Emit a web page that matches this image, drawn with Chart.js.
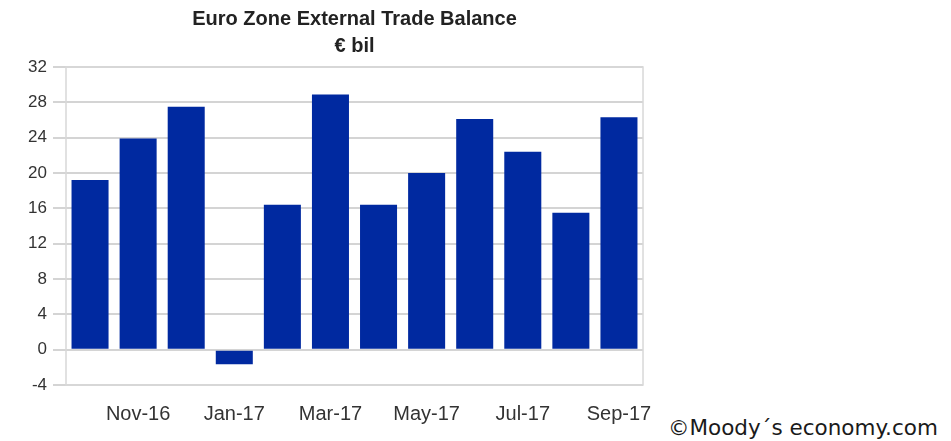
<!DOCTYPE html>
<html>
<head>
<meta charset="utf-8">
<script src="https://cdn.jsdelivr.net/npm/chart.js@4"></script>
<style>
  body { margin: 0; background: #fff; width: 951px; height: 441px; position: relative; overflow: hidden; }
  #wrap { position: absolute; left: 0; top: 0; width: 660px; height: 441px; }
  #credit { position: absolute; left: 668px; top: 415px; font-family: "DejaVu Sans", Verdana, sans-serif; font-size: 21.5px; color: #1a1a1a; white-space: nowrap; }
</style>
</head>
<body>
<div id="wrap"><canvas id="grafico"></canvas></div>
<div id="credit">©Moody´s economy.com</div>
<script>
const meses = ["Oct-16", "Nov-16", "Dec-16", "Jan-17", "Feb-17", "Mar-17", "Apr-17", "May-17", "Jun-17", "Jul-17", "Aug-17", "Sep-17"];
const saldo = [19.2, 23.9, 27.5, -1.65, 16.4, 28.9, 16.4, 20.0, 26.1, 22.4, 15.5, 26.3];
const titulo = ["Euro Zone External Trade Balance", "€ bil"];

// contorno da area do grafico
const moldura = {
  id: "moldura",
  afterDraw(chart) {
    const { ctx, chartArea } = chart;
    ctx.save();
    ctx.strokeStyle = "#d8d8d8";
    ctx.lineWidth = 1.5;
    ctx.strokeRect(chartArea.left, chartArea.top, chartArea.right - chartArea.left, chartArea.bottom - chartArea.top);
    ctx.restore();
  }
};

document.addEventListener("DOMContentLoaded", function () {
  const canvas = document.getElementById("grafico");

  new Chart(canvas.getContext("2d"), {
    type: "bar",
    data: {
      labels: meses,
      datasets: [{
        data: saldo,
        backgroundColor: "#0029a0",
        borderWidth: 0,
        barPercentage: 0.77,
        categoryPercentage: 1.0
      }]
    },
    options: {
      responsive: true,
      maintainAspectRatio: false,
      animation: false,
      layout: { padding: { left: 0, right: 17, top: 0, bottom: 14 } },
      plugins: {
        legend: { display: false },
        tooltip: { enabled: false },
        title: {
          display: true,
          fullSize: false,
          text: titulo,
          color: "#222",
          font: { family: "Liberation Sans, Arial, sans-serif", size: 20, weight: "bold", lineHeight: 1.35 },
          padding: { top: 6, bottom: 7 }
        }
      },
      scales: {
        x: {
          grid: { display: false },
          border: { display: false },
          ticks: {
            autoSkip: false,
            maxRotation: 0,
            padding: 9,
            color: "#333",
            font: { family: "Liberation Sans, Arial, sans-serif", size: 20 },
            callback: function (val, i) { return i % 2 === 1 ? meses[i] : ""; }
          },
          afterFit: function (scale) {
            scale.height = 42;
            scale.paddingLeft = 0;
            scale.paddingRight = 0;
          }
        },
        y: {
          min: -4,
          max: 32,
          ticks: {
            stepSize: 4,
            padding: 6,
            color: "#333",
            font: { family: "Liberation Sans, Arial, sans-serif", size: 17 }
          },
          grid: { color: "#d4d4d4", lineWidth: 2, tickLength: 13 },
          border: { display: false },
          afterFit: function (scale) {
            scale.width = 66;
            scale.paddingTop = 0;
            scale.paddingBottom = 0;
          }
        }
      }
    },
    plugins: [moldura]
  });
});
</script>
</body>
</html>
